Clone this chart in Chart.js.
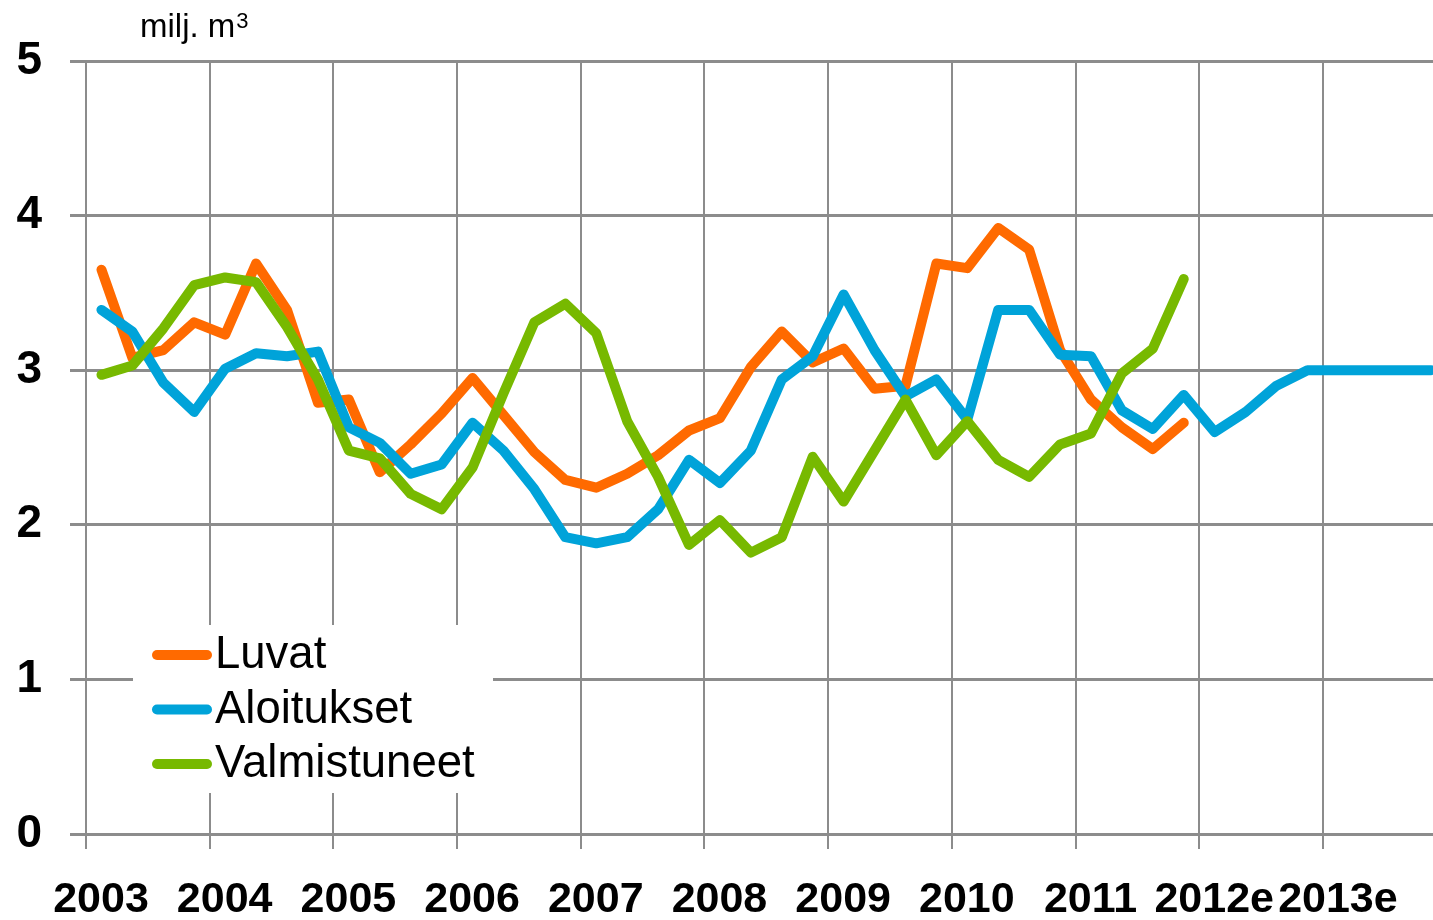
<!DOCTYPE html>
<html>
<head>
<meta charset="utf-8">
<script src="https://cdn.jsdelivr.net/npm/chart.js@4.4.1/dist/chart.umd.min.js"></script>
<style>
html,body{margin:0;padding:0;background:#fff;overflow:hidden}
#wrap{width:1433px;height:920px;position:relative}
</style>
</head>
<body>
<div id="wrap"><canvas id="c" width="1433" height="920"></canvas></div>
<script>
// Year tick labels (one label per 4 quarters)
const yearLabels = ["2003","2004","2005","2006","2007","2008","2009","2010","2011","2012e","2013e"];

// Quarterly values, milj. m3
const luvat = [3.65, 3.08, 3.13, 3.31, 3.23, 3.69, 3.39, 2.79, 2.81, 2.34, 2.52, 2.72,
               2.95, 2.71, 2.47, 2.29, 2.24, 2.33, 2.45, 2.61, 2.69, 3.02, 3.25, 3.05,
               3.14, 2.88, 2.90, 3.69, 3.66, 3.92, 3.78, 3.13, 2.81, 2.63, 2.49, 2.66];

const aloitukset = [3.39, 3.25, 2.92, 2.73, 3.01, 3.11, 3.09, 3.12, 2.63, 2.53, 2.33, 2.39,
                    2.66, 2.48, 2.23, 1.92, 1.88, 1.92, 2.10, 2.42, 2.27, 2.48, 2.94, 3.09,
                    3.49, 3.13, 2.83, 2.94, 2.68, 3.39, 3.39, 3.10, 3.09, 2.74, 2.62, 2.84,
                    2.60, 2.73, 2.90, 3.00, 3.00, 3.00, 3.00, 3.00];

const valmistuneet = [2.97, 3.03, 3.27, 3.55, 3.60, 3.57, 3.28, 2.94, 2.48, 2.43, 2.20, 2.10,
                      2.37, 2.85, 3.31, 3.43, 3.24, 2.67, 2.31, 1.87, 2.03, 1.82, 1.92, 2.44,
                      2.15, 2.48, 2.81, 2.45, 2.67, 2.42, 2.31, 2.52, 2.59, 2.98, 3.14, 3.59];

const seriesNames = ["Luvat", "Aloitukset", "Valmistuneet"];
const seriesColors = ["#FF6A00", "#00A3D9", "#77B900"];
const yTicks = [0, 1, 2, 3, 4, 5];

const toPoints = arr => arr.map((v, i) => ({x: i + 0.5, y: v}));

const FONT = '"Liberation Sans", Arial, sans-serif';

const boxLegend = {
  id: 'boxLegend',
  afterDatasetsDraw(chart) {
    const {ctx, chartArea} = chart;
    const L = chartArea.left, B = chartArea.bottom;
    ctx.save();
    ctx.fillStyle = '#ffffff';
    ctx.fillRect(L + 47, B - 209, 360, 168);
    chart.data.datasets.forEach((ds, i) => {
      const base = B - 166 + i * 54.5;
      const cy = base - 13;
      ctx.strokeStyle = ds.borderColor;
      ctx.lineWidth = 10;
      ctx.lineCap = 'round';
      ctx.beginPath();
      ctx.moveTo(L + 71, cy);
      ctx.lineTo(L + 121, cy);
      ctx.stroke();
      ctx.fillStyle = '#000';
      ctx.font = '45.5px ' + FONT;
      ctx.textBaseline = 'alphabetic';
      ctx.textAlign = 'left';
      ctx.fillText(ds.label, L + 129, base);
    });
    ctx.restore();
  }
};

const unitTitle = {
  id: 'unitTitle',
  afterDraw(chart) {
    const {ctx, chartArea} = chart;
    const x = chartArea.left + 54, base = chartArea.top - 24;
    ctx.save();
    ctx.fillStyle = '#000';
    ctx.textBaseline = 'alphabetic';
    ctx.textAlign = 'left';
    ctx.font = '33px ' + FONT;
    const main = 'milj. m';
    ctx.fillText(main, x, base);
    const w = ctx.measureText(main).width;
    ctx.font = '22px ' + FONT;
    ctx.fillText('3', x + w + 1, base - 9);
    ctx.restore();
  }
};

new Chart(document.getElementById('c'), {
  type: 'line',
  data: {
    datasets: [
      {label: seriesNames[0], data: toPoints(luvat), borderColor: seriesColors[0], order: 2},
      {label: seriesNames[1], data: toPoints(aloitukset), borderColor: seriesColors[1], order: 1},
      {label: seriesNames[2], data: toPoints(valmistuneet), borderColor: seriesColors[2], order: 0}
    ].map(d => Object.assign(d, {
      borderWidth: 10, pointRadius: 0, pointHoverRadius: 0, tension: 0, fill: false,
      borderJoinStyle: 'round', borderCapStyle: 'round'
    }))
  },
  options: {
    responsive: false,
    animation: false,
    devicePixelRatio: 1,
    layout: {padding: {top: 61, left: 0, right: 0, bottom: 0}},
    plugins: {legend: {display: false}, tooltip: {enabled: false}, title: {display: false}},
    scales: {
      x: {
        type: 'linear',
        min: 0,
        max: 43.56,
        afterBuildTicks: s => { s.ticks = yearLabels.map((_, k) => ({value: k * 4})); },
        afterFit: s => { s.height = 86; },
        border: {display: false},
        grid: {color: '#8c8c8c', lineWidth: 2, tickLength: 15, tickColor: '#8c8c8c'},
        ticks: {
          autoSkip: false, maxRotation: 0, minRotation: 0,
          labelOffset: 15, padding: 25,
          color: '#000',
          font: {family: FONT, size: 43, weight: 'bold'},
          callback: v => yearLabels[Math.round(v / 4)]
        }
      },
      y: {
        min: 0,
        max: 5,
        afterBuildTicks: s => { s.ticks = yTicks.map(v => ({value: v})); },
        afterFit: s => { s.width = 86; },
        border: {display: false},
        grid: {color: '#8c8c8c', lineWidth: 3, tickLength: 16, tickColor: '#8c8c8c'},
        ticks: {
          padding: 28,
          color: '#000',
          font: {family: FONT, size: 46, weight: 'bold'},
          callback: v => String(v)
        }
      }
    }
  },
  plugins: [boxLegend, unitTitle]
});
</script>
</body>
</html>
